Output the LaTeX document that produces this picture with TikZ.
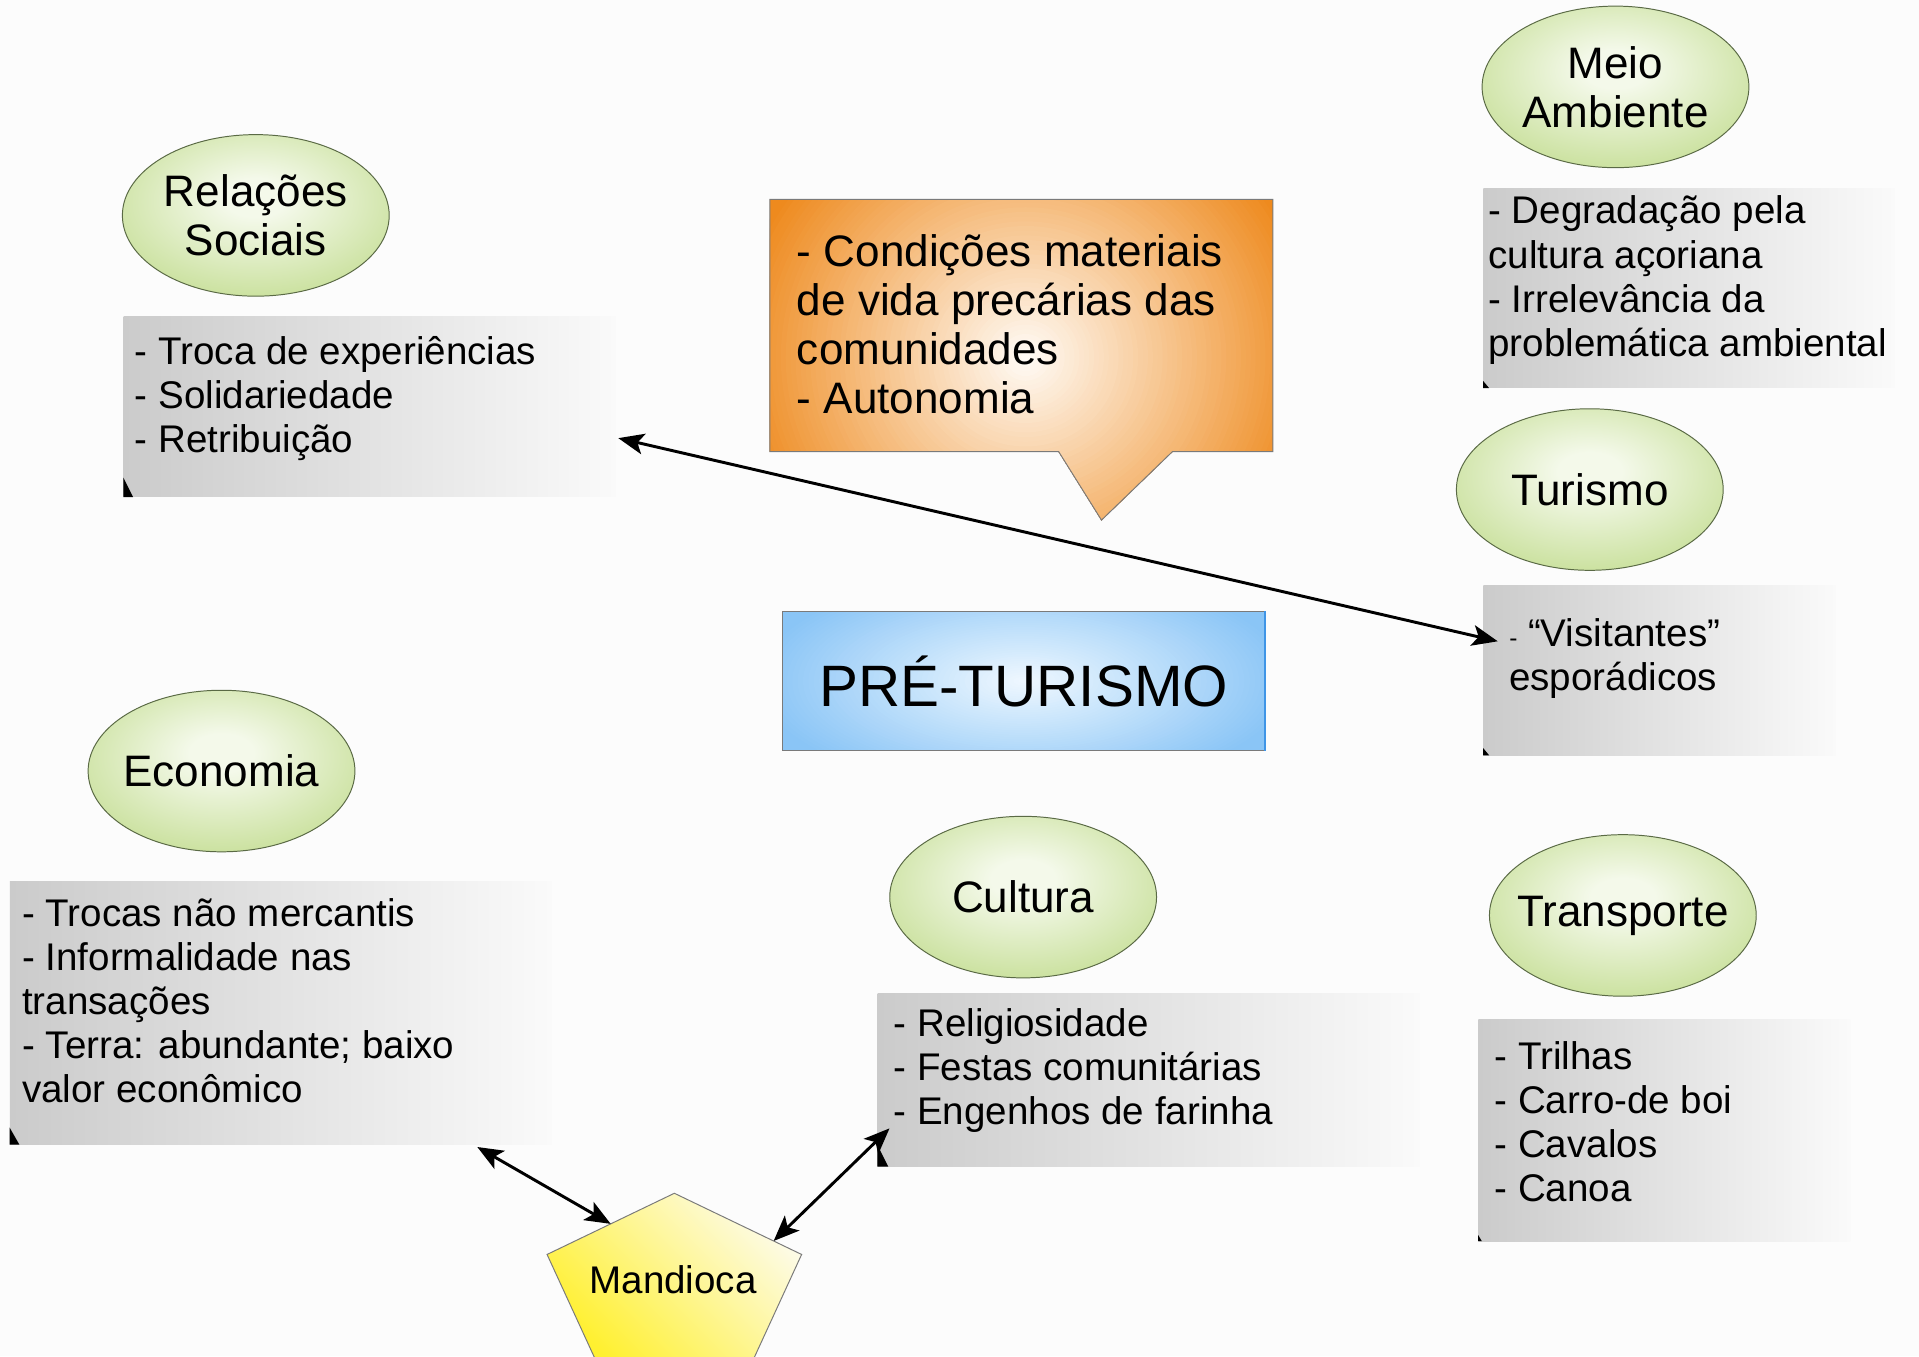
\documentclass[tikz,border=0pt]{standalone}
\usepackage{fontspec}
\setmainfont{Liberation Sans}
\usetikzlibrary{shapes.geometric,arrows.meta,calc}
\definecolor{bgc}{HTML}{FCFCFC}
\definecolor{grnin}{HTML}{F4F9EA}
\definecolor{grnout}{HTML}{A6CC5C}
\definecolor{grnline}{HTML}{5A6A45}
\definecolor{gryL}{HTML}{CBCBCB}
\definecolor{gryR}{HTML}{FAFAFA}
\definecolor{orA}{HTML}{FFFCF8}
\definecolor{orF}{HTML}{EE8A1E}
\definecolor{blA}{HTML}{F0F8FF}
\definecolor{blD}{HTML}{8AC5F6}
\definecolor{blright}{HTML}{3F95E6}
\definecolor{yelA}{HTML}{FFF030}
\definecolor{yelB}{HTML}{FDFBE8}
\definecolor{edgegray}{HTML}{7A7A7A}
\pgfdeclareradialshading{greenglow}{\pgfpoint{0bp}{6bp}}{color(0bp)=(grnin); color(6bp)=(grnin); color(50bp)=(grnout); color(80bp)=(grnout)}
\tikzset{
  bubble/.style={ellipse, draw=grnline, line width=0.8pt, shade, shading=greenglow,
    minimum width=218pt, minimum height=132pt, inner xsep=-40pt, inner ysep=0pt,
    align=center, font=\fontsize{36}{40}\selectfont},
  graybox/.style={rectangle, draw=none, shade, left color=gryL, right color=gryR, inner sep=0pt},
  listtext/.style={anchor=base west, align=left, inner sep=0pt, font=\fontsize{31.5}{36}\selectfont},
  conn/.style={line width=2.4pt, {Stealth[length=21pt,width=17pt,inset=5pt]}-{Stealth[length=21pt,width=17pt,inset=5pt]}},
  wedge/.style={fill=black},
}
\begin{document}
\begin{tikzpicture}[x=1pt,y=-1pt]
\useasboundingbox (0,0) rectangle (1568,1108);
\fill[bgc] (0,0) rectangle (1568,1108);

% gray boxes
\node[graybox, minimum width=402pt, minimum height=147pt] (rsbox) at (302,332.5) {};
\node[graybox, minimum width=336pt, minimum height=163pt] (mabox) at (1380,235.5) {};
\node[graybox, minimum width=288pt, minimum height=139pt] (tubox) at (1356,547.5) {};
\node[graybox, minimum width=443pt, minimum height=215pt] (ecbox) at (229.5,827.5) {};
\node[graybox, minimum width=443pt, minimum height=141pt] (cubox) at (938.5,882.5) {};
\node[graybox, minimum width=304pt, minimum height=181pt] (trbox) at (1360,923.5) {};

% wedges
\fill[wedge] (rsbox.south west) -- ++(0,-16) -- ++(8,16) -- cycle;
\fill[wedge] (mabox.south west) -- ++(0,-6) -- ++(5,6) -- cycle;
\fill[wedge] (tubox.south west) -- ++(0,-6) -- ++(5,6) -- cycle;
\fill[wedge] (ecbox.south west) -- ++(0,-14) -- ++(8,14) -- cycle;
\fill[wedge] (cubox.south west) -- ++(0,-18) -- ++(9,18) -- cycle;
\fill[wedge] (trbox.south west) -- ++(0,-5) -- ++(3,5) -- cycle;

% list texts (anchor = baseline of last line)
\node[listtext] (rstext) at (110,370) {- Troca de experiências\\- Solidariedade\\- Retribuição};
\node[listtext] (matext) at (1216,291) {- Degradação pela\\cultura açoriana\\- Irrelevância da\\problemática ambiental};
\node[listtext] (tutext) at (1233,564) {{\fontsize{20}{20}\selectfont -} “Visitantes”\\esporádicos};
\node[listtext] (ectext) at (18,901) {- Trocas não mercantis\\- Informalidade nas\\transações\\- Terra: abundante; baixo\\valor econômico};
\node[listtext] (cutext) at (730,919) {- Religiosidade\\- Festas comunitárias\\- Engenhos de farinha};
\node[listtext] (trtext) at (1221,982) {- Trilhas\\- Carro-de boi\\- Cavalos\\- Canoa};

% ellipses
\node[bubble] (rs) at (209,176) {Relações\\Sociais};
\node[bubble] (ma) at (1320,71) {Meio\\Ambiente};
\node[bubble] (tu) at (1299,400) {Turismo};
\node[bubble] (ec) at (181,630) {Economia};
\node[bubble] (cu) at (836,733) {Cultura};
\node[bubble] (tr) at (1326,748) {Transporte};

% callout (radial glow built from concentric ellipses)
\begin{scope}
  \clip (629,163) -- (1040,163) -- (1040,369) -- (958,369) -- (900,425) -- (865,369) -- (629,369) -- cycle;
  \fill[orF] (620,150) rectangle (1050,430);
  \foreach \i in {60,59,...,1} {
    \pgfmathtruncatemacro\pct{100*\i/60}
    \fill[orF!\pct!orA] (838,292) ellipse [x radius={240*\i/60}, y radius={230*\i/60}];
  }
\end{scope}
\draw[edgegray, line width=0.8pt]
  (629,163) -- (1040,163) -- (1040,369) -- (958,369) -- (900,425) -- (865,369) -- (629,369) -- cycle;
\node[listtext, font=\fontsize{36}{40}\selectfont] (callout) at (651,337.5)
  {- Condições materiais\\de vida precárias das\\comunidades\\- Autonomia};

% central box glow
\begin{scope}
  \clip (639,500) rectangle (1034,613);
  \fill[blD] (630,490) rectangle (1040,620);
  \foreach \i in {50,49,...,1} {
    \pgfmathtruncatemacro\pct{100*\i/50}
    \fill[blD!\pct!blA] (836.5,556.5) ellipse [x radius={220*\i/50}, y radius={92*\i/50}];
  }
\end{scope}
\node[rectangle, draw=edgegray, line width=0.8pt,
  minimum width=395pt, minimum height=113pt, inner sep=0pt,
  font=\fontsize{47.7}{52}\selectfont] (pre) at (836.5,556.5) {PRÉ-TURISMO};
\draw[blright, line width=2pt] ([xshift=-1pt]pre.north east) -- ([xshift=-1pt]pre.south east);

% pentagon
\coordinate (pT) at (551,975);
\coordinate (pL) at (447,1025);
\coordinate (pR) at (655,1025);
\coordinate (pBL) at (487,1112);
\coordinate (pBR) at (615,1112);
\shade[draw=edgegray, line width=0.8pt, bottom color=yelA, top color=yelB, shading angle=-45]
  (pT) -- (pR) -- (pBR) -- (pBL) -- (pL) -- cycle;
\node[inner sep=0pt, font=\fontsize{31.5}{36}\selectfont] (mandioca) at (550,1046) {Mandioca};
\coordinate (pLe) at ($(pT)!0.5!(pL)$);
\coordinate (pRe) at ($(pT)!0.78!(pR)$);

% connectors
\draw[conn] ([xshift=2pt,yshift=-25.5pt]rsbox.east) -- ([xshift=12pt,yshift=23.5pt]tubox.west);
\draw[conn] ([xshift=160.5pt,yshift=-2pt]ecbox.south) -- (pLe);
\draw[conn] (pRe) -- ([xshift=10pt,yshift=-39.5pt]cubox.west);
\end{tikzpicture}
\end{document}
